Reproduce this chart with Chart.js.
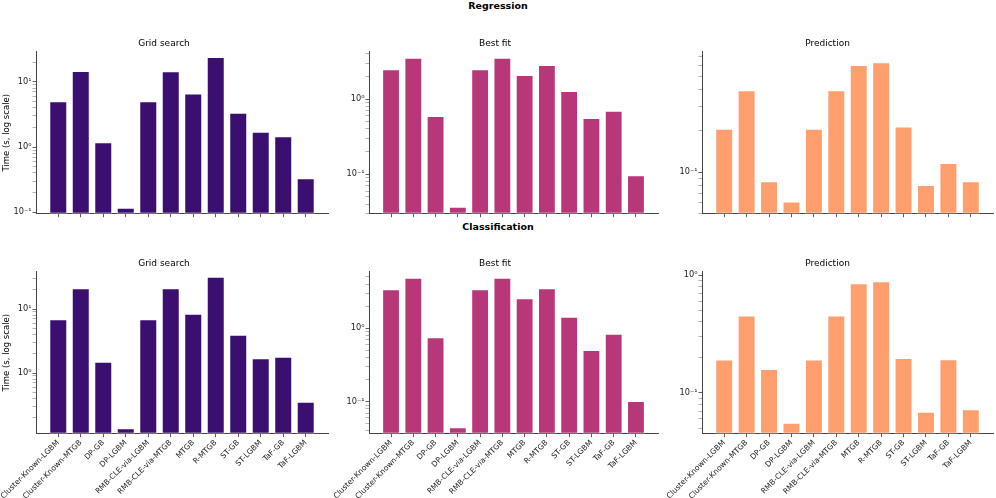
<!DOCTYPE html>
<html lang="en">
<head>
<meta charset="UTF-8" />
<title>Regression / Classification timing</title>
<script src="https://cdn.jsdelivr.net/npm/chart.js"></script>
<style>
  body { margin: 0; background: #ffffff; font-family: 'DejaVu Sans', sans-serif; }
  #fig { position: relative; width: 996px; height: 498px; overflow: hidden; }
  .panel { position: absolute; }
  .suptitle {
    position: absolute; left: 0; width: 996px; text-align: center;
    font-weight: bold; font-size: 9.5px; line-height: 11px; color: #000;
  }
</style>
</head>
<body>
<div id="fig">
  <div class="suptitle" style="top:0px">Regression</div>
  <div class="suptitle" style="top:220.5px">Classification</div>
</div>

<script>
  // models on the x axis
  const models = [
    'Cluster-Known-LGBM', 'Cluster-Known-MTGB', 'DP-GB', 'DP-LGBM',
    'RMB-CLE-via-LGBM', 'RMB-CLE-via-MTGB', 'MTGB', 'R-MTGB',
    'ST-GB', 'ST-LGBM', 'TaF-GB', 'TaF-LGBM'
  ];

  // time in seconds
  const regGrid = [5.06, 14.7, 1.18, 0.117, 5.06, 14.5, 6.64, 24.1, 3.35, 1.71, 1.47, 0.332];
  const regFit  = [2.48, 3.54, 0.594, 0.037, 2.48, 3.54, 2.08, 2.83, 1.28, 0.56, 0.70, 0.097];
  const regPred = [0.208, 0.395, 0.086, 0.0614, 0.208, 0.395, 0.604, 0.632, 0.216, 0.081, 0.117, 0.086];
  const clsGrid = [6.9, 21.1, 1.50, 0.137, 6.9, 21.1, 8.45, 32, 3.97, 1.70, 1.80, 0.356];
  const clsFit  = [3.40, 4.89, 0.754, 0.0447, 3.40, 4.89, 2.56, 3.51, 1.43, 0.506, 0.844, 0.102];
  const clsPred = [0.192, 0.455, 0.159, 0.0556, 0.192, 0.455, 0.855, 0.889, 0.198, 0.069, 0.193, 0.0723];

  const panelTitles = ['Grid search', 'Best fit', 'Prediction'];
  // y limits per panel (reg grid, reg fit, reg pred, cls grid, cls fit, cls pred)
  const yMins = [0.095, 0.030, 0.050, 0.113, 0.0366, 0.0449];
  const yMaxs = [29, 4.25, 0.755, 38.3, 5.9, 1.07];
  const decadeLabels = { '0.01': '10⁻²', '0.1': '10⁻¹', '1': '10⁰', '10': '10¹', '100': '10²' };

  const colors = ['#3b0f70', '#b73779', '#fe9f6d'];
  const FONT = "'DejaVu Sans', sans-serif";

  // layout of canvases: columns and rows
  const cols = [
    { left: 0, width: 332, yw: 36, rp: 4 },
    { left: 332, width: 330, yw: 37, rp: 4 },
    { left: 662, width: 334, yw: 40, rp: 3 }
  ];
  const rows = [
    { top: 30, height: 192, xh: 8.3 },
    { top: 250, height: 248, xh: 64.3 }
  ];

  const series = [regGrid, regFit, regPred, clsGrid, clsFit, clsPred];

  function logTicks(min, max) {
    const ticks = [];
    for (let e = Math.floor(Math.log10(min)); e <= Math.ceil(Math.log10(max)); e++) {
      for (let k = 1; k <= 9; k++) {
        const v = parseFloat((k * Math.pow(10, e)).toPrecision(6));
        if (v >= min && v <= max) ticks.push({ value: v, major: k === 1 });
      }
    }
    return ticks;
  }

  series.forEach((vals, p) => {
    const r = Math.floor(p / 3);
    const c = p % 3;
    const col = cols[c];
    const row = rows[r];

    const div = document.createElement('div');
    div.className = 'panel';
    div.style.left = col.left + 'px';
    div.style.top = row.top + 'px';
    div.style.width = col.width + 'px';
    div.style.height = row.height + 'px';
    const canvas = document.createElement('canvas');
    div.appendChild(canvas);
    document.getElementById('fig').appendChild(div);

    new Chart(canvas, {
      type: 'bar',
      data: {
        datasets: [{
          data: vals.map((v, i) => ({ x: i, y: v })),
          backgroundColor: colors[c],
          borderColor: 'rgba(255,255,255,0.55)',
          borderWidth: 1,
          borderSkipped: false,
          categoryPercentage: 1,
          barPercentage: 0.8
        }]
      },
      options: {
        responsive: true,
        maintainAspectRatio: false,
        animation: false,
        layout: { padding: { left: 0, right: col.rp, top: 0, bottom: 0 } },
        plugins: {
          legend: { display: false },
          tooltip: { enabled: false },
          title: {
            display: true,
            text: panelTitles[c],
            color: '#000',
            font: { family: FONT, size: 9, weight: 'normal' },
            padding: { top: 8.3, bottom: 2.6 }
          }
        },
        scales: {
          x: {
            type: 'linear',
            min: -0.99,
            max: models.length - 0.01,
            offset: false,
            afterBuildTicks: (scale) => {
              scale.ticks = models.map((_, i) => ({ value: i }));
            },
            afterFit: (scale) => {
              scale.height = row.xh;
              scale.paddingLeft = 0;
              scale.paddingRight = 0;
            },
            grid: {
              offset: false,
              drawOnChartArea: false,
              drawTicks: true,
              tickLength: 3.5,
              tickColor: '#333',
              tickWidth: 0.8
            },
            border: { display: true, color: '#444', width: 1 },
            ticks: {
              autoSkip: false,
              minRotation: r === 1 ? 45 : 0,
              maxRotation: r === 1 ? 45 : 0,
              padding: 1,
              color: '#222',
              font: { family: FONT, size: 7.6 },
              callback: (value) => (r === 1 ? models[value] : '')
            }
          },
          y: {
            type: 'logarithmic',
            min: yMins[p],
            max: yMaxs[p],
            afterBuildTicks: (scale) => {
              scale.ticks = logTicks(yMins[p], yMaxs[p]);
            },
            afterFit: (scale) => {
              scale.width = col.yw;
              scale.paddingTop = 0;
              scale.paddingBottom = 0;
            },
            grid: {
              drawOnChartArea: false,
              drawTicks: true,
              tickLength: 3.5,
              tickColor: (ctx) => (ctx.tick && ctx.tick.major ? '#333' : '#666'),
              tickWidth: (ctx) => (ctx.tick && ctx.tick.major ? 0.8 : 0.5)
            },
            border: { display: true, color: '#444', width: 1 },
            title: {
              display: c === 0,
              text: 'Time (s, log scale)',
              color: '#000',
              font: { family: FONT, size: 8.5 },
              padding: { top: 2, bottom: 0 }
            },
            ticks: {
              autoSkip: false,
              padding: 1,
              color: '#222',
              font: { family: FONT, size: 8.2 },
              callback: (value) => decadeLabels[String(value)] || ''
            }
          }
        }
      }
    });
  });
</script>
</body>
</html>
